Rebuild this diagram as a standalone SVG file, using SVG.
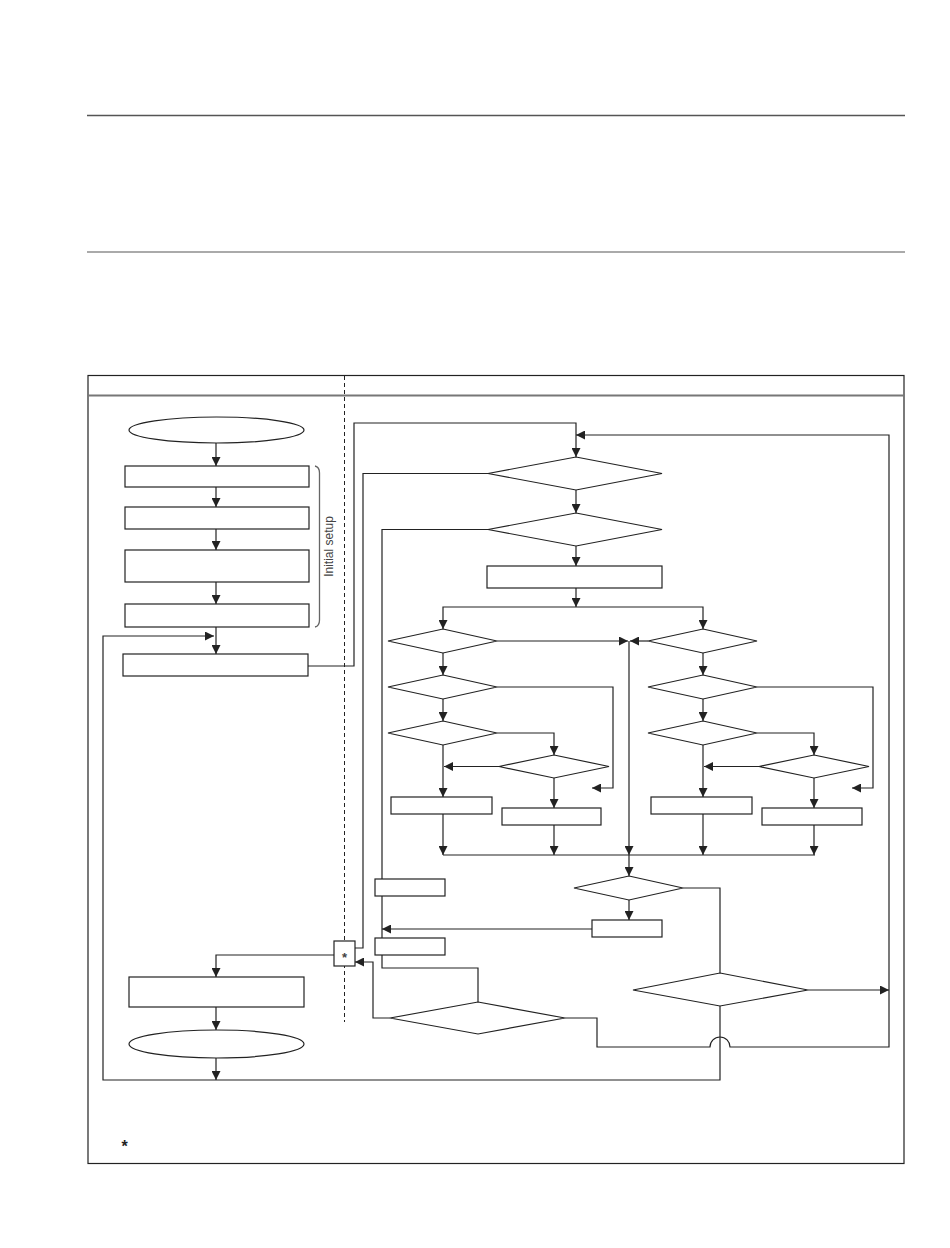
<svg xmlns="http://www.w3.org/2000/svg" width="950" height="1248" viewBox="0 0 950 1248">
<style>
.n{fill:#fff;stroke:#222;stroke-width:1.2}
.c{fill:none;stroke:#222;stroke-width:1.2}
.a{marker-end:url(#ah)}
.t{font-family:"Liberation Sans",Arial,sans-serif}
</style>
<defs>
<marker id="ah" markerUnits="userSpaceOnUse" markerWidth="9" markerHeight="9" refX="9" refY="4.5" orient="auto" viewBox="0 0 9 9">
<path d="M0,0 L9,4.5 L0,9 z" fill="#222"/>
</marker>
</defs>
<rect width="950" height="1248" fill="#fff"/>
<g id="rules">
<line x1="87" y1="115.5" x2="905" y2="115.5" stroke="#555" stroke-width="1.4"/>
<line x1="87" y1="252" x2="905" y2="252" stroke="#aaa" stroke-width="2"/>
</g>
<g id="frame">
<rect x="88" y="375.5" width="816" height="788" fill="none" stroke="#222" stroke-width="1.2"/>
<line x1="88" y1="395.5" x2="904" y2="395.5" stroke="#777" stroke-width="1.8"/>
<line x1="344.5" y1="376" x2="344.5" y2="1022" stroke="#222" stroke-width="1" stroke-dasharray="4,3"/>
</g>
<g id="connectors">
<path class="c a" d="M216,443 V466"/>
<path class="c a" d="M216,487 V507"/>
<path class="c a" d="M216,529 V550"/>
<path class="c a" d="M216,582 V604"/>
<path class="c a" d="M216,627 V654"/>
<path class="c a" d="M720,1006 V1080 H103 V636 H214"/>
<path class="c a" d="M308,666 H354 V423 H576 V457"/>
<path class="c a" d="M565,1018 H597 V1047 H710 A10,10 0 0 1 730,1047 H889 V435 H576"/>
<path class="c a" d="M576,490 V513"/>
<path class="c" d="M488,473.5 H363 V948 H355"/>
<path class="c" d="M488,529.5 H382 V879"/>
<path class="c" d="M382,896 V938"/>
<path class="c" d="M382,955 V968 H478 V1002"/>
<path class="c a" d="M576,546 V566"/>
<path class="c a" d="M576,588 V607"/>
<path class="c a" d="M576,607 H443 V629"/>
<path class="c a" d="M576,607 H703 V629"/>
<path class="c a" d="M497,641 H628"/>
<path class="c a" d="M648,641 H630"/>
<path class="c a" d="M629,641 V855"/>
<path class="c a" d="M629,855 V876"/>
<path class="c a" d="M443,653 V675"/>
<path class="c a" d="M443,699 V721"/>
<path class="c a" d="M443,745 V797"/>
<path class="c a" d="M497,687 H613 V788 H592"/>
<path class="c a" d="M497,733 H554 V755"/>
<path class="c a" d="M499,766.5 H444"/>
<path class="c a" d="M554,778 V808"/>
<path class="c a" d="M443,814 V855"/>
<path class="c a" d="M554,825 V855"/>
<path class="c a" d="M703,653 V675"/>
<path class="c a" d="M703,699 V721"/>
<path class="c a" d="M703,745 V797"/>
<path class="c a" d="M757,687 H873 V788 H852"/>
<path class="c a" d="M757,733 H814 V755"/>
<path class="c a" d="M759,766.5 H704"/>
<path class="c a" d="M814,778 V808"/>
<path class="c a" d="M703,814 V855"/>
<path class="c a" d="M814,825 V855"/>
<path class="c" d="M443,855 H815"/>
<path class="c a" d="M629,900 V920"/>
<path class="c a" d="M592,929 H382"/>
<path class="c" d="M683,888 H720 V973"/>
<path class="c a" d="M808,990 H889"/>
<path class="c a" d="M334,955 H216 V977"/>
<path class="c a" d="M390,1018 H373 V962 H355"/>
<path class="c a" d="M216,1007 V1030"/>
<path class="c a" d="M216,1058 V1080"/>
</g>
<g id="start"><ellipse class="n" cx="216.5" cy="430" rx="87.5" ry="13"/></g>
<g id="box1"><rect class="n" x="125" y="466" width="184" height="21"/></g>
<g id="box2"><rect class="n" x="125" y="507" width="184" height="22"/></g>
<g id="box3"><rect class="n" x="125" y="550" width="184" height="32"/></g>
<g id="box4"><rect class="n" x="125" y="604" width="184" height="23"/></g>
<g id="box5"><rect class="n" x="123" y="654" width="185" height="22"/></g>
<g id="initial-setup">
<path d="M315,466 Q319.5,467 319.5,473 V620 Q319.5,626 315,627" fill="none" stroke="#666" stroke-width="1.3"/>
<text class="t" x="0" y="0" transform="translate(333,546.5) rotate(-90)" font-size="12" fill="#444" text-anchor="middle">Initial setup</text>
</g>
<g id="d1"><polygon class="n" points="576,457 662,473.5 576,490 488,473.5"/></g>
<g id="d2"><polygon class="n" points="576,513 662,529.5 576,546 488,529.5"/></g>
<g id="boxD"><rect class="n" x="487" y="566" width="175" height="22"/></g>
<g id="L1"><polygon class="n" points="443,629 497,641 443,653 388,641"/></g>
<g id="L2"><polygon class="n" points="443,675 497,687 443,699 388,687"/></g>
<g id="L3"><polygon class="n" points="443,721 497,733 443,745 388,733"/></g>
<g id="L4"><polygon class="n" points="554,755 609,766.5 554,778 499,766.5"/></g>
<g id="L5"><rect class="n" x="391" y="797" width="101" height="17"/></g>
<g id="L6"><rect class="n" x="502" y="808" width="99" height="17"/></g>
<g id="R1"><polygon class="n" points="703,629 757,641 703,653 648,641"/></g>
<g id="R2"><polygon class="n" points="703,675 757,687 703,699 648,687"/></g>
<g id="R3"><polygon class="n" points="703,721 757,733 703,745 648,733"/></g>
<g id="R4"><polygon class="n" points="814,755 869,766.5 814,778 759,766.5"/></g>
<g id="R5"><rect class="n" x="651" y="797" width="101" height="17"/></g>
<g id="R6"><rect class="n" x="762" y="808" width="100" height="17"/></g>
<g id="boxA"><rect class="n" x="375" y="879" width="70" height="17"/></g>
<g id="boxB"><rect class="n" x="375" y="938" width="70" height="17"/></g>
<g id="d5"><polygon class="n" points="629,876 683,888 629,900 574,888"/></g>
<g id="boxC"><rect class="n" x="592" y="920" width="70" height="17"/></g>
<g id="d4"><polygon class="n" points="720,973 808,990 720,1006 633,990"/></g>
<g id="d3"><polygon class="n" points="478,1002 565,1018 478,1034 390,1018"/></g>
<g id="star">
<rect class="n" x="334" y="941" width="21" height="25"/>
<text class="t" x="344.5" y="962" font-size="13" font-weight="bold" fill="#444" text-anchor="middle">*</text>
</g>
<g id="box6"><rect class="n" x="129" y="977" width="175" height="30"/></g>
<g id="end"><ellipse class="n" cx="216.5" cy="1044" rx="87.5" ry="14"/></g>
<g id="note"><text class="t" x="124.5" y="1152" font-size="16" font-weight="bold" fill="#222" text-anchor="middle">*</text></g>
</svg>
